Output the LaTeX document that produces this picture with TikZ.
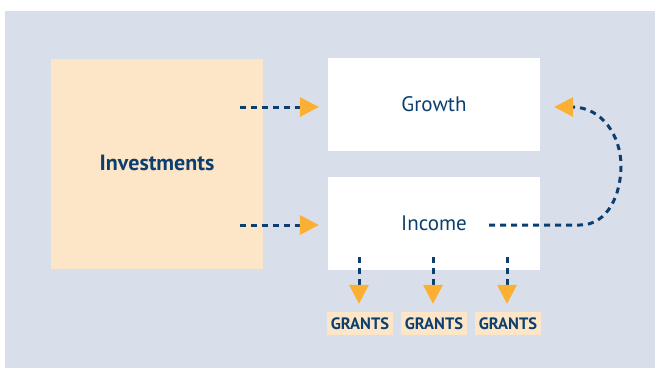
\documentclass[tikz,border=0pt]{standalone}
\usepackage{fontspec}
\setmainfont{PT Sans}
\usetikzlibrary{arrows.meta}
\definecolor{bgblue}{HTML}{D9DFEA}
\definecolor{peach}{HTML}{FDE6C7}
\definecolor{navy}{HTML}{0C3F70}
\definecolor{tipor}{HTML}{FBB034}
\tikzset{
  box/.style={rectangle, inner sep=0pt, text=navy},
  whitebox/.style={box, fill=white, minimum width=212, minimum height=93, font=\fontsize{21}{24}\selectfont},
  grantbox/.style={box, fill=peach, minimum width=66, minimum height=23, font=\bfseries\fontsize{16.5}{18}\selectfont},
  flow/.style={draw=navy, line width=3pt, dash pattern=on 6pt off 5pt,
    -{Triangle[length=19pt, width=20pt, sep=3pt, color=tipor, fill=tipor, line width=0pt]}},
}
\begin{document}
\begin{tikzpicture}[x=1pt,y=-1pt]
  \useasboundingbox (0,0) rectangle (655,368);
  \fill[bgblue] (5,11) rectangle (655,368);

  % boxes
  \node[box, fill=peach, minimum width=212, minimum height=210,
        font=\bfseries\fontsize{22}{24}\selectfont] (inv) at (157,164) {\raisebox{3pt}{Investments}};
  \node[whitebox] (growth) at (434,104.5) {Growth};
  \node[whitebox] (income) at (434,223.5) {Income};
  \node[grantbox] (g1) at (360,323.5) {GRANTS};
  \node[grantbox] (g2) at (434,323.5) {GRANTS};
  \node[grantbox] (g3) at (508,323.5) {GRANTS};

  % start points of the connectors
  \coordinate (s1) at (240,107);
  \coordinate (s2) at (240,225);
  \coordinate (s3) at (489,225);
  \coordinate (d1) at (359,257);
  \coordinate (d2) at (433,257);
  \coordinate (d3) at (507,257);

  \draw[flow, shorten >=6pt] (s1) -- (growth.west |- s1);
  \draw[flow, shorten >=6pt] (s2) -- (income.west |- s2);
  \draw[flow] (s3) -- (580,225) to[out=0,in=-90] (621,166)
        to[out=90,in=0] (572,107) -- ([xshift=11pt]growth.east |- s1);
  \draw[flow, shorten >=5pt] (d1) -- (g1.north -| d1);
  \draw[flow, shorten >=5pt] (d2) -- (g2.north -| d2);
  \draw[flow, shorten >=5pt] (d3) -- (g3.north -| d3);
\end{tikzpicture}
\end{document}
